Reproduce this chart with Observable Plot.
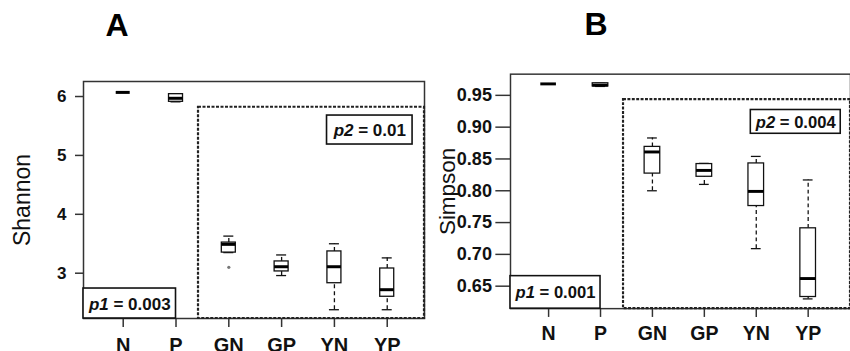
<!DOCTYPE html>
<html><head><meta charset="utf-8">
<script src="https://cdn.jsdelivr.net/npm/d3@7"></script>
<script src="https://cdn.jsdelivr.net/npm/@observablehq/plot@0.6"></script>
<style>
html,body{margin:0;padding:0;background:#fff;overflow:hidden;width:850px;height:351px;}
#wrap{position:relative;width:850px;height:351px;overflow:hidden;font-family:"Liberation Sans",Arial,sans-serif;}
.title{position:absolute;font-weight:bold;font-size:32px;line-height:32px;transform:translateX(-50%);color:#000;}
.panel{position:absolute;top:60px;}
.panel svg{font-family:"Liberation Sans",Arial,sans-serif !important;background:transparent;}
.panel [aria-label^="x-axis"] text{font-size:20px !important;font-weight:bold !important;fill:#111;}
.panel [aria-label^="y-axis"] text{font-weight:bold !important;fill:#111;}
#pa [aria-label^="y-axis"] text{font-size:17px !important;}
#pb [aria-label^="y-axis"] text{font-size:18.5px !important;}
.panel [aria-label^="x-axis"] path,.panel [aria-label^="y-axis"] path,
.panel [aria-label^="x-axis"] line,.panel [aria-label^="y-axis"] line{stroke:#333;stroke-width:1.5;}
</style></head><body>
<div id="wrap">
  <div class="title" style="left:117px;top:9px">A</div>
  <div class="title" style="left:596px;top:8px">B</div>
  <div class="panel" id="pa" style="left:0px"></div>
  <div class="panel" id="pb" style="left:425px"></div>
</div>
<script>
// ---- data ----
const groups = ["N", "P", "GN", "GP", "YN", "YP"];

const shannonMin = [6.07, 5.91, 3.35, 2.96, 2.38, 2.38];
const shannonQ1  = [6.07, 5.91, 3.35, 3.03, 2.83, 2.60];
const shannonMed = [6.07, 5.97, 3.49, 3.11, 3.11, 2.72];
const shannonQ3  = [6.07, 6.04, 3.52, 3.20, 3.37, 3.08];
const shannonMax = [6.07, 6.04, 3.63, 3.31, 3.50, 3.26];
const shannonOutlierGroups = ["GN"];
const shannonOutlierValues = [3.10];
const shannonTicks = [3, 4, 5, 6];
const shannonPLabels = ["p1 = 0.003", "p2 = 0.01"];

const simpsonMin = [0.968, 0.964, 0.800, 0.810, 0.709, 0.630];
const simpsonQ1  = [0.968, 0.964, 0.827, 0.822, 0.776, 0.633];
const simpsonMed = [0.968, 0.966, 0.861, 0.832, 0.799, 0.662];
const simpsonQ3  = [0.968, 0.969, 0.869, 0.842, 0.843, 0.741];
const simpsonMax = [0.968, 0.969, 0.883, 0.843, 0.854, 0.817];
const simpsonOutlierGroups = [];
const simpsonOutlierValues = [];
const simpsonTicks = [0.65, 0.70, 0.75, 0.80, 0.85, 0.90, 0.95];
const simpsonPLabels = ["p1 = 0.001", "p2 = 0.004"];

const panelTitles = ["A", "B"];
const yLabels = ["Shannon", "Simpson"];

function rowsOf(mins, q1s, meds, q3s, maxs) {
  return groups.map((g, i) => ({i, g, min: mins[i], q1: q1s[i], med: meds[i], q3: q3s[i], max: maxs[i]}));
}

function italicP(svg) {
  d3.select(svg).selectAll("text").each(function () {
    const m = /^(p\d)( = .+)$/.exec(this.textContent);
    if (m && this.childNodes.length === 1) {
      const s = d3.select(this);
      s.text(null);
      s.append("tspan").attr("font-style", "italic").text(m[1]);
      s.append("tspan").text(m[2]);
    }
  });
}

function panel(cfg) {
  const rows = cfg.rows;
  const [xa, xb] = cfg.xDomain, [ya, yb] = cfg.yDomain;
  const outl = cfg.outGroups.map((g, k) => ({i: groups.indexOf(g), v: cfg.outValues[k]}));
  const hb = cfg.boxHalf, hc = cfg.capHalf;
  const svg = Plot.plot({
    width: cfg.width, height: cfg.height,
    marginLeft: cfg.ml, marginRight: cfg.mr, marginTop: cfg.mt, marginBottom: cfg.mb,
    style: {background: "transparent", overflow: "visible"},
    x: {domain: cfg.xDomain, ticks: groups.map((g, i) => i), tickFormat: i => groups[i],
        tickSize: cfg.xTickSize, tickPadding: cfg.xTickPadding, label: null},
    y: {domain: cfg.yDomain, ticks: cfg.yTicks, tickFormat: cfg.yFormat,
        tickSize: cfg.yTickSize, tickPadding: cfg.yTickPadding, label: null},
    marks: [
      Plot.frame({stroke: "#333", strokeWidth: 1.5}),
      Plot.rect([0], {x1: cfg.dashX, x2: xb, y1: ya, y2: cfg.dashTop, fill: "none",
        stroke: "#222", strokeWidth: 2.2, strokeDasharray: "3,1.5"}),
      Plot.ruleX(rows, {x: "i", y1: "min", y2: "q1", stroke: "#111", strokeWidth: 1.3, strokeDasharray: "4,3"}),
      Plot.ruleX(rows, {x: "i", y1: "q3", y2: "max", stroke: "#111", strokeWidth: 1.3, strokeDasharray: "4,3"}),
      Plot.ruleY(rows, {x1: "i", x2: "i", y: "min", insetLeft: -hc, insetRight: -hc, stroke: "#111", strokeWidth: 1.3}),
      Plot.ruleY(rows, {x1: "i", x2: "i", y: "max", insetLeft: -hc, insetRight: -hc, stroke: "#111", strokeWidth: 1.3}),
      Plot.rect(rows, {x1: "i", x2: "i", y1: "q1", y2: "q3", insetLeft: -hb, insetRight: -hb,
        fill: "white", stroke: "#111", strokeWidth: 1.3}),
      Plot.ruleY(rows, {x1: "i", x2: "i", y: "med", insetLeft: -hb, insetRight: -hb, stroke: "#000", strokeWidth: 3}),
      Plot.dot(outl, {x: "i", y: "v", r: 1.6, fill: "#777", stroke: null}),
      Plot.rect([0], {x1: xa, x2: cfg.p1Right, y1: ya, y2: cfg.p1Top, fill: "white", stroke: "#111", strokeWidth: 1.6}),
      Plot.text([cfg.pLabels[0]], {x: (xa + cfg.p1Right) / 2, y: (ya + cfg.p1Top) / 2, text: d => d,
        fontSize: 17, fontWeight: "bold", fill: "#111", dy: cfg.p1dy}),
      Plot.rect([0], {x1: cfg.p2[0], x2: cfg.p2[1], y1: cfg.p2[2], y2: cfg.p2[3], fill: "white", stroke: "#111", strokeWidth: 1.6}),
      Plot.text([cfg.pLabels[1]], {x: (cfg.p2[0] + cfg.p2[1]) / 2, y: (cfg.p2[2] + cfg.p2[3]) / 2, text: d => d,
        fontSize: 17, fontWeight: "bold", fill: "#111", dy: 1}),
      Plot.text([cfg.yLabel], {frameAnchor: "left", text: d => d, rotate: -90, dx: cfg.yLabelDx, dy: cfg.yLabelDy,
        fontSize: 23, fill: "#111", textAnchor: "middle"})
    ]
  });
  italicP(svg);
  return svg;
}

document.getElementById("pa").appendChild(panel({
  rows: rowsOf(shannonMin, shannonQ1, shannonMed, shannonQ3, shannonMax),
  outGroups: shannonOutlierGroups, outValues: shannonOutlierValues,
  width: 425, height: 291, ml: 83, mr: 1, mt: 21, mb: 33,
  xDomain: [-0.752, 5.706], yDomain: [2.231, 6.255],
  yTicks: shannonTicks, yFormat: d => String(d),
  xTickSize: 9, xTickPadding: 10, yTickSize: 8, yTickPadding: 9,
  boxHalf: 7, capHalf: 5,
  dashX: 1.426, dashTop: 5.818,
  p1Right: 1, p1Top: 2.74, p1dy: 1,
  p2: [3.86, 5.48, 5.185, 5.677],
  pLabels: shannonPLabels, yLabel: yLabels[0], yLabelDx: -61, yLabelDy: 0
}));

document.getElementById("pb").appendChild(panel({
  rows: rowsOf(simpsonMin, simpsonQ1, simpsonMed, simpsonQ3, simpsonMax),
  outGroups: simpsonOutlierGroups, outValues: simpsonOutlierValues,
  width: 435, height: 291, ml: 87, mr: 0, mt: 14, mb: 37,
  xDomain: [-0.734, 5.815], yDomain: [0.6147, 0.9833],
  yTicks: simpsonTicks, yFormat: d3.format(".2f"),
  xTickSize: 9, xTickPadding: 9, yTickSize: 15, yTickPadding: 4,
  boxHalf: 8, capHalf: 5,
  dashX: 1.443, dashTop: 0.9434,
  p1Right: 1, p1Top: 0.6658, p1dy: 0,
  p2: [3.895, 5.627, 0.8896, 0.9270],
  pLabels: simpsonPLabels, yLabel: yLabels[1], yLabelDx: -64, yLabelDy: 0
}));
</script>
</body></html>
